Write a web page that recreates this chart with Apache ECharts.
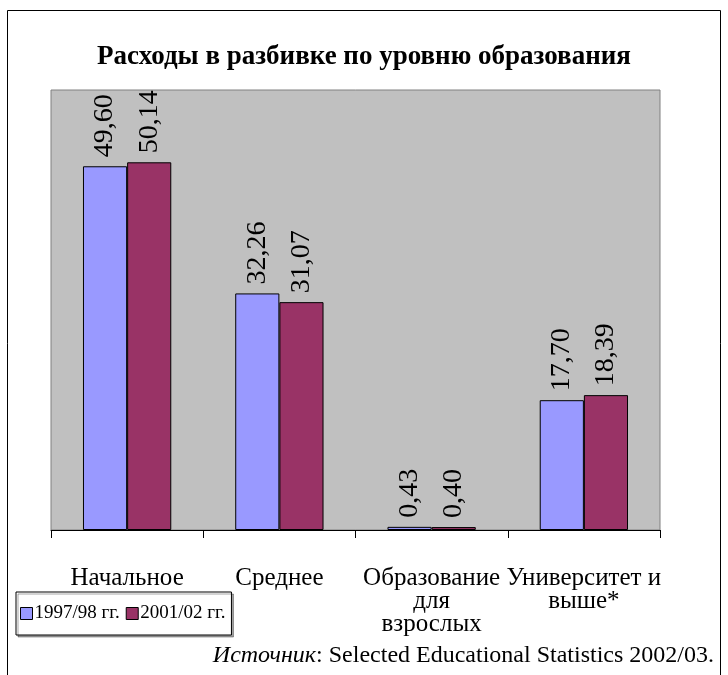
<!DOCTYPE html>
<html>
<head>
<meta charset="utf-8">
<script src="https://cdn.jsdelivr.net/npm/echarts@6/dist/echarts.min.js"></script>
<style>
  html, body { margin: 0; padding: 0; background: #fff; }
  #chart { width: 728px; height: 675px; }
</style>
</head>
<body>
<div id="chart"></div>
<script>
// данные
var categories = ["Начальное", "Среднее", "Образование\nдля\nвзрослых", "Университет и\nвыше*"];
var seriesNames = ["1997/98 гг.", "2001/02 гг."];
var values9798 = [49.60, 32.26, 0.43, 17.70];
var values0102 = [50.14, 31.07, 0.40, 18.39];
var barColors = ["#9999ff", "#993366"];

var serif = "'Liberation Serif', 'DejaVu Serif', serif";
var myChart = echarts.init(document.getElementById("chart"));

function makeSeries(name, data, color) {
  return {
    name: name,
    type: "bar",
    data: data,
    barGap: "0%",
    barCategoryGap: "42%",
    itemStyle: { color: color, borderColor: "#000", borderWidth: 1 },
    label: {
      show: true,
      position: "top",
      rotate: 90,
      align: "left",
      verticalAlign: "middle",
      distance: 9,
      fontFamily: serif,
      fontSize: 28,
      color: "#000",
      formatter: function (p) {
        return p.value.toFixed(2).replace(".", ",");
      }
    }
  };
}

var option = {
  animation: false,
  backgroundColor: "#fff",
  title: [
    {
      text: "Расходы в разбивке по уровню образования",
      left: "center",
      top: 39,
      textStyle: { fontFamily: serif, fontSize: 27, fontWeight: "bold", color: "#000" }
    },
    {
      text: "{i|Источник}{n|: Selected Educational Statistics 2002/03.}",
      right: 9,
      top: 639,
      textStyle: {
        rich: {
          i: { fontFamily: serif, fontSize: 24, fontStyle: "italic", fontWeight: "normal", color: "#000" },
          n: { fontFamily: serif, fontSize: 24, fontWeight: "normal", color: "#000" }
        }
      }
    }
  ],
  legend: {
    data: seriesNames,
    left: 16,
    top: 592,
    orient: "horizontal",
    icon: "rect",
    itemWidth: 12,
    itemHeight: 12,
    itemGap: 6,
    padding: [12, 6, 12, 4],
    backgroundColor: "#fff",
    borderColor: "#000",
    borderWidth: 1,
    shadowColor: "rgba(0,0,0,0.35)",
    shadowOffsetX: 2,
    shadowOffsetY: 2,
    itemStyle: { borderColor: "#000", borderWidth: 1 },
    textStyle: { fontFamily: serif, fontSize: 19, color: "#000", padding: [0, 0, 0, -3] }
  },
  grid: {
    left: 51,
    right: 68,
    top: 90,
    bottom: 145,
    show: true,
    backgroundColor: "#c0c0c0",
    borderColor: "#808080",
    borderWidth: 1
  },
  xAxis: {
    type: "category",
    data: categories,
    axisLine: { lineStyle: { color: "#000", width: 1 } },
    axisTick: { show: true, length: 8, lineStyle: { color: "#000" } },
    axisLabel: {
      interval: 0,
      margin: 37,
      verticalAlign: "top",
      fontFamily: serif,
      fontSize: 25,
      lineHeight: 23,
      color: "#000",
      align: "center"
    }
  },
  yAxis: {
    type: "value",
    min: 0,
    max: 60,
    show: false,
    splitLine: { show: false }
  },
  graphic: [
    {
      type: "rect",
      silent: true,
      z: -1,
      shape: { x: 7.5, y: 10.5, width: 713, height: 700 },
      style: { fill: null, stroke: "#000", lineWidth: 1 }
    }
  ],
  series: [
    makeSeries(seriesNames[0], values9798, barColors[0]),
    makeSeries(seriesNames[1], values0102, barColors[1])
  ]
};

myChart.setOption(option);
</script>
</body>
</html>
